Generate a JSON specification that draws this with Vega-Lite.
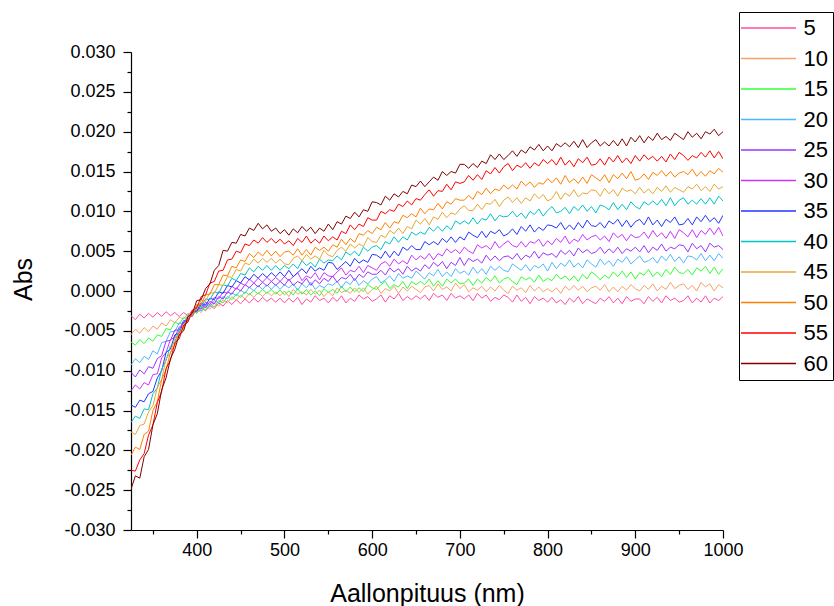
{
"$schema": "https://vega.github.io/schema/vega-lite/v6.json",
"width": 592, "height": 478,
"autosize": {"type": "none"},
"padding": {"left": 131, "top": 52, "right": 111, "bottom": 76},
"background": "white",
"config": {
 "view": {"stroke": null},
 "axis": {"labelFont": "Liberation Sans", "titleFont": "Liberation Sans", "labelColor": "#000", "titleColor": "#000", "domainColor": "#000", "tickColor": "#000", "grid": false, "titleFontWeight": "normal", "domainWidth": 1.2, "tickWidth": 1.2}
},
"data": {"values": [
{"x":325,"s5":-0.0031,"s10":-0.0055,"s15":-0.0064,"s20":-0.0093,"s25":-0.0102,"s30":-0.0125,"s35":-0.0143,"s40":-0.0165,"s45":-0.0177,"s50":-0.0206,"s55":-0.0225,"s60":-0.0249},
{"x":330,"s5":-0.0036,"s10":-0.0048,"s15":-0.0068,"s20":-0.0085,"s25":-0.0108,"s30":-0.0118,"s35":-0.0146,"s40":-0.0157,"s45":-0.0180,"s50":-0.0196,"s55":-0.0226,"s60":-0.0232},
{"x":335,"s5":-0.0029,"s10":-0.0053,"s15":-0.0061,"s20":-0.0090,"s25":-0.0099,"s30":-0.0123,"s35":-0.0137,"s40":-0.0160,"s45":-0.0169,"s50":-0.0199,"s55":-0.0212,"s60":-0.0235},
{"x":340,"s5":-0.0034,"s10":-0.0046,"s15":-0.0066,"s20":-0.0082,"s25":-0.0104,"s30":-0.0115,"s35":-0.0139,"s40":-0.0148,"s45":-0.0167,"s50":-0.0180,"s55":-0.0204,"s60":-0.0208},
{"x":345,"s5":-0.0028,"s10":-0.0051,"s15":-0.0059,"s20":-0.0086,"s25":-0.0095,"s30":-0.0118,"s35":-0.0129,"s40":-0.0149,"s45":-0.0152,"s50":-0.0176,"s55":-0.0181,"s60":-0.0199},
{"x":350,"s5":-0.0033,"s10":-0.0044,"s15":-0.0063,"s20":-0.0075,"s25":-0.0097,"s30":-0.0105,"s35":-0.0126,"s40":-0.0129,"s45":-0.0144,"s50":-0.0150,"s55":-0.0168,"s60":-0.0168},
{"x":355,"s5":-0.0027,"s10":-0.0048,"s15":-0.0055,"s20":-0.0079,"s25":-0.0085,"s30":-0.0104,"s35":-0.0109,"s40":-0.0122,"s45":-0.0121,"s50":-0.0139,"s55":-0.0140,"s60":-0.0154},
{"x":360,"s5":-0.0032,"s10":-0.0040,"s15":-0.0057,"s20":-0.0065,"s25":-0.0081,"s30":-0.0084,"s35":-0.0100,"s40":-0.0098,"s45":-0.0111,"s50":-0.0111,"s55":-0.0126,"s60":-0.0124},
{"x":365,"s5":-0.0026,"s10":-0.0044,"s15":-0.0047,"s20":-0.0063,"s25":-0.0063,"s30":-0.0077,"s35":-0.0077,"s40":-0.0087,"s45":-0.0085,"s50":-0.0099,"s55":-0.0097,"s60":-0.0109},
{"x":370,"s5":-0.0031,"s10":-0.0036,"s15":-0.0049,"s20":-0.0051,"s25":-0.0062,"s30":-0.0061,"s35":-0.0073,"s40":-0.0069,"s45":-0.0078,"s50":-0.0077,"s55":-0.0087,"s60":-0.0085},
{"x":375,"s5":-0.0027,"s10":-0.0040,"s15":-0.0039,"s20":-0.0051,"s25":-0.0049,"s30":-0.0058,"s35":-0.0055,"s40":-0.0064,"s45":-0.0059,"s50":-0.0068,"s55":-0.0065,"s60":-0.0073},
{"x":380,"s5":-0.0032,"s10":-0.0033,"s15":-0.0042,"s20":-0.0040,"s25":-0.0049,"s30":-0.0045,"s35":-0.0053,"s40":-0.0048,"s45":-0.0056,"s50":-0.0052,"s55":-0.0060,"s60":-0.0055},
{"x":385,"s5":-0.0027,"s10":-0.0035,"s15":-0.0033,"s20":-0.0041,"s25":-0.0037,"s30":-0.0044,"s35":-0.0039,"s40":-0.0046,"s45":-0.0041,"s50":-0.0048,"s55":-0.0043,"s60":-0.0050},
{"x":390,"s5":-0.0031,"s10":-0.0028,"s15":-0.0035,"s20":-0.0030,"s25":-0.0037,"s30":-0.0032,"s35":-0.0038,"s40":-0.0032,"s45":-0.0038,"s50":-0.0032,"s55":-0.0039,"s60":-0.0032},
{"x":395,"s5":-0.0024,"s10":-0.0031,"s15":-0.0025,"s20":-0.0031,"s25":-0.0025,"s30":-0.0032,"s35":-0.0026,"s40":-0.0031,"s45":-0.0025,"s50":-0.0031,"s55":-0.0024,"s60":-0.0028},
{"x":400,"s5":-0.0028,"s10":-0.0023,"s15":-0.0028,"s20":-0.0021,"s25":-0.0026,"s30":-0.0020,"s35":-0.0025,"s40":-0.0018,"s45":-0.0023,"s50":-0.0017,"s55":-0.0021,"s60":-0.0012},
{"x":405,"s5":-0.0021,"s10":-0.0027,"s15":-0.0020,"s20":-0.0025,"s25":-0.0017,"s30":-0.0023,"s35":-0.0015,"s40":-0.0020,"s45":-0.0012,"s50":-0.0017,"s55":-0.0007,"s60":-0.0011},
{"x":410,"s5":-0.0025,"s10":-0.0019,"s15":-0.0024,"s20":-0.0017,"s25":-0.0021,"s30":-0.0014,"s35":-0.0018,"s40":-0.0010,"s45":-0.0013,"s50":-0.0005,"s55":-0.0005,"s60":0.0003},
{"x":415,"s5":-0.0018,"s10":-0.0023,"s15":-0.0016,"s20":-0.0020,"s25":-0.0013,"s30":-0.0017,"s35":-0.0009,"s40":-0.0011,"s45":-0.0002,"s50":-0.0004,"s55":0.0010,"s60":0.0009},
{"x":420,"s5":-0.0022,"s10":-0.0015,"s15":-0.0020,"s20":-0.0012,"s25":-0.0016,"s30":-0.0008,"s35":-0.0011,"s40":-0.0001,"s45":-0.0003,"s50":0.0008,"s55":0.0012,"s60":0.0026},
{"x":425,"s5":-0.0015,"s10":-0.0019,"s15":-0.0012,"s20":-0.0015,"s25":-0.0007,"s30":-0.0010,"s35":-0.0001,"s40":-0.0003,"s45":0.0008,"s50":0.0008,"s55":0.0025,"s60":0.0032},
{"x":430,"s5":-0.0019,"s10":-0.0011,"s15":-0.0015,"s20":-0.0007,"s25":-0.0010,"s30":-0.0001,"s35":-0.0003,"s40":0.0008,"s45":0.0007,"s50":0.0020,"s55":0.0026,"s60":0.0051},
{"x":435,"s5":-0.0012,"s10":-0.0015,"s15":-0.0007,"s20":-0.0010,"s25":-0.0001,"s30":-0.0003,"s35":0.0007,"s40":0.0006,"s45":0.0018,"s50":0.0019,"s55":0.0039,"s60":0.0050},
{"x":440,"s5":-0.0017,"s10":-0.0007,"s15":-0.0011,"s20":-0.0002,"s25":-0.0004,"s30":0.0006,"s35":0.0005,"s40":0.0016,"s45":0.0017,"s50":0.0031,"s55":0.0040,"s60":0.0061},
{"x":445,"s5":-0.0011,"s10":-0.0012,"s15":-0.0004,"s20":-0.0006,"s25":0.0004,"s30":0.0002,"s35":0.0013,"s40":0.0013,"s45":0.0027,"s50":0.0029,"s55":0.0050,"s60":0.0060},
{"x":450,"s5":-0.0016,"s10":-0.0005,"s15":-0.0008,"s20":0.0001,"s25":0,"s30":0.0010,"s35":0.0010,"s40":0.0022,"s45":0.0025,"s50":0.0039,"s55":0.0048,"s60":0.0071},
{"x":455,"s5":-0.0010,"s10":-0.0010,"s15":-0.0001,"s20":-0.0003,"s25":0.0008,"s30":0.0007,"s35":0.0018,"s40":0.0020,"s45":0.0035,"s50":0.0037,"s55":0.0059,"s60":0.0069},
{"x":460,"s5":-0.0015,"s10":-0.0003,"s15":-0.0005,"s20":0.0005,"s25":0.0004,"s30":0.0015,"s35":0.0014,"s40":0.0029,"s45":0.0033,"s50":0.0047,"s55":0.0057,"s60":0.0079},
{"x":465,"s5":-0.0009,"s10":-0.0008,"s15":0.0001,"s20":0,"s25":0.0010,"s30":0.0010,"s35":0.0021,"s40":0.0024,"s45":0.0040,"s50":0.0042,"s55":0.0064,"s60":0.0076},
{"x":470,"s5":-0.0014,"s10":-0.0002,"s15":-0.0004,"s20":0.0007,"s25":0.0005,"s30":0.0016,"s35":0.0016,"s40":0.0031,"s45":0.0035,"s50":0.0049,"s55":0.0060,"s60":0.0085},
{"x":475,"s5":-0.0008,"s10":-0.0007,"s15":0.0002,"s20":0.0002,"s25":0.0011,"s30":0.0011,"s35":0.0022,"s40":0.0026,"s45":0.0041,"s50":0.0044,"s55":0.0067,"s60":0.0078},
{"x":480,"s5":-0.0013,"s10":-0.0001,"s15":-0.0003,"s20":0.0008,"s25":0.0006,"s30":0.0017,"s35":0.0017,"s40":0.0032,"s45":0.0036,"s50":0.0051,"s55":0.0061,"s60":0.0083},
{"x":485,"s5":-0.0009,"s10":-0.0006,"s15":0.0002,"s20":0.0002,"s25":0.0012,"s30":0.0012,"s35":0.0023,"s40":0.0026,"s45":0.0041,"s50":0.0044,"s55":0.0066,"s60":0.0075},
{"x":490,"s5":-0.0014,"s10":-0.0001,"s15":-0.0004,"s20":0.0008,"s25":0.0007,"s30":0.0017,"s35":0.0018,"s40":0.0032,"s45":0.0035,"s50":0.0050,"s55":0.0060,"s60":0.0079},
{"x":495,"s5":-0.0009,"s10":-0.0006,"s15":0.0001,"s20":0.0002,"s25":0.0012,"s30":0.0012,"s35":0.0024,"s40":0.0026,"s45":0.0040,"s50":0.0043,"s55":0.0065,"s60":0.0072},
{"x":500,"s5":-0.0015,"s10":0,"s15":-0.0005,"s20":0.0008,"s25":0.0007,"s30":0.0018,"s35":0.0018,"s40":0.0032,"s45":0.0034,"s50":0.0049,"s55":0.0059,"s60":0.0077},
{"x":505,"s5":-0.0009,"s10":-0.0007,"s15":0,"s20":0.0004,"s25":0.0015,"s30":0.0013,"s35":0.0026,"s40":0.0028,"s45":0.0033,"s50":0.0050,"s55":0.0063,"s60":0.0070},
{"x":510,"s5":-0.0014,"s10":0.0002,"s15":-0.0005,"s20":0.0009,"s25":0.0007,"s30":0.0018,"s35":0.0018,"s40":0.0034,"s45":0.0041,"s50":0.0045,"s55":0.0057,"s60":0.0078},
{"x":515,"s5":-0.0008,"s10":-0.0004,"s15":0.0003,"s20":0.0001,"s25":0.0012,"s30":0.0023,"s35":0.0023,"s40":0.0028,"s45":0.0044,"s50":0.0053,"s55":0.0066,"s60":0.0073},
{"x":520,"s5":-0.0017,"s10":-0.0001,"s15":-0.0004,"s20":0.0009,"s25":0.0009,"s30":0.0013,"s35":0.0028,"s40":0.0038,"s45":0.0038,"s50":0.0045,"s55":0.0061,"s60":0.0081},
{"x":525,"s5":-0.0010,"s10":-0.0005,"s15":0.0002,"s20":0.0004,"s25":0.0016,"s30":0.0019,"s35":0.0022,"s40":0.0032,"s45":0.0046,"s50":0.0052,"s55":0.0069,"s60":0.0075},
{"x":530,"s5":-0.0014,"s10":0.0002,"s15":-0.0005,"s20":0.0011,"s25":0.0007,"s30":0.0016,"s35":0.0031,"s40":0.0036,"s45":0.0040,"s50":0.0045,"s55":0.0060,"s60":0.0080},
{"x":535,"s5":-0.0006,"s10":-0.0004,"s15":0,"s20":0.0002,"s25":0.0014,"s30":0.0023,"s35":0.0025,"s40":0.0030,"s45":0.0044,"s50":0.0055,"s55":0.0065,"s60":0.0072},
{"x":540,"s5":-0.0012,"s10":0.0001,"s15":-0.0006,"s20":0.0007,"s25":0.0009,"s30":0.0014,"s35":0.0029,"s40":0.0040,"s45":0.0040,"s50":0.0051,"s55":0.0060,"s60":0.0079},
{"x":545,"s5":-0.0009,"s10":-0.0007,"s15":0.0003,"s20":0.0004,"s25":0.0016,"s30":0.0023,"s35":0.0026,"s40":0.0035,"s45":0.0051,"s50":0.0055,"s55":0.0069,"s60":0.0075},
{"x":550,"s5":-0.0015,"s10":-0.0001,"s15":-0.0002,"s20":0.0009,"s25":0.0012,"s30":0.0019,"s35":0.0036,"s40":0.0039,"s45":0.0045,"s50":0.0050,"s55":0.0063,"s60":0.0084},
{"x":555,"s5":-0.0008,"s10":-0.0006,"s15":0.0002,"s20":0.0007,"s25":0.0019,"s30":0.0018,"s35":0.0035,"s40":0.0038,"s45":0.0043,"s50":0.0058,"s55":0.0068,"s60":0.0077},
{"x":560,"s5":-0.0013,"s10":0.0004,"s15":-0.0003,"s20":0.0012,"s25":0.0011,"s30":0.0024,"s35":0.0027,"s40":0.0044,"s45":0.0051,"s50":0.0055,"s55":0.0064,"s60":0.0087},
{"x":565,"s5":-0.0006,"s10":-0.0002,"s15":0.0006,"s20":0.0004,"s25":0.0017,"s30":0.0029,"s35":0.0032,"s40":0.0039,"s45":0.0055,"s50":0.0065,"s55":0.0075,"s60":0.0084},
{"x":570,"s5":-0.0015,"s10":0.0001,"s15":-0.0001,"s20":0.0012,"s25":0.0015,"s30":0.0020,"s35":0.0037,"s40":0.0049,"s45":0.0050,"s50":0.0058,"s55":0.0072,"s60":0.0094},
{"x":575,"s5":-0.0009,"s10":-0.0003,"s15":0.0005,"s20":0.0008,"s25":0.0021,"s30":0.0026,"s35":0.0031,"s40":0.0045,"s45":0.0059,"s50":0.0066,"s55":0.0083,"s60":0.0091},
{"x":580,"s5":-0.0013,"s10":0.0004,"s15":-0.0001,"s20":0.0016,"s25":0.0013,"s30":0.0024,"s35":0.0041,"s40":0.0050,"s45":0.0054,"s50":0.0061,"s55":0.0077,"s60":0.0099},
{"x":585,"s5":-0.0005,"s10":-0.0002,"s15":0.0004,"s20":0.0007,"s25":0.0021,"s30":0.0031,"s35":0.0035,"s40":0.0044,"s45":0.0059,"s50":0.0072,"s55":0.0084,"s60":0.0093},
{"x":590,"s5":-0.0010,"s10":0.0004,"s15":-0.0001,"s20":0.0013,"s25":0.0017,"s30":0.0023,"s35":0.0039,"s40":0.0055,"s45":0.0056,"s50":0.0070,"s55":0.0081,"s60":0.0102},
{"x":595,"s5":-0.0007,"s10":-0.0004,"s15":0.0008,"s20":0.0009,"s25":0.0024,"s30":0.0032,"s35":0.0036,"s40":0.0050,"s45":0.0067,"s50":0.0076,"s55":0.0092,"s60":0.0100},
{"x":600,"s5":-0.0013,"s10":0.0002,"s15":0.0004,"s20":0.0015,"s25":0.0021,"s30":0.0029,"s35":0.0046,"s40":0.0055,"s45":0.0062,"s50":0.0072,"s55":0.0089,"s60":0.0112},
{"x":605,"s5":-0.0010,"s10":0.0006,"s15":0.0002,"s20":0.0018,"s25":0.0021,"s30":0.0026,"s35":0.0045,"s40":0.0057,"s45":0.0061,"s50":0.0080,"s55":0.0089,"s60":0.0111},
{"x":610,"s5":-0.0005,"s10":-0.0003,"s15":0.0008,"s20":0.0010,"s25":0.0026,"s30":0.0034,"s35":0.0041,"s40":0.0052,"s45":0.0070,"s50":0.0077,"s55":0.0100,"s60":0.0108},
{"x":615,"s5":-0.0014,"s10":0.0003,"s15":0.0012,"s20":0.0014,"s25":0.0020,"s30":0.0037,"s35":0.0050,"s40":0.0062,"s45":0.0067,"s50":0.0086,"s55":0.0097,"s60":0.0119},
{"x":620,"s5":-0.0006,"s10":0,"s15":0.0003,"s20":0.0019,"s25":0.0029,"s30":0.0031,"s35":0.0042,"s40":0.0059,"s45":0.0076,"s50":0.0079,"s55":0.0102,"s60":0.0114},
{"x":625,"s5":-0.0010,"s10":0.0006,"s15":0.0008,"s20":0.0012,"s25":0.0024,"s30":0.0040,"s35":0.0050,"s40":0.0068,"s45":0.0072,"s50":0.0087,"s55":0.0100,"s60":0.0122},
{"x":630,"s5":-0.0003,"s10":-0.0003,"s15":0.0005,"s20":0.0022,"s25":0.0028,"s30":0.0034,"s35":0.0044,"s40":0.0061,"s45":0.0079,"s50":0.0085,"s55":0.0109,"s60":0.0118},
{"x":635,"s5":-0.0012,"s10":0.0005,"s15":0.0012,"s20":0.0016,"s25":0.0021,"s30":0.0038,"s35":0.0055,"s40":0.0068,"s45":0.0072,"s50":0.0095,"s55":0.0106,"s60":0.0125},
{"x":640,"s5":-0.0007,"s10":0,"s15":0.0003,"s20":0.0019,"s25":0.0031,"s30":0.0034,"s35":0.0051,"s40":0.0064,"s45":0.0081,"s50":0.0092,"s55":0.0113,"s60":0.0122},
{"x":645,"s5":-0.0011,"s10":0.0006,"s15":0.0012,"s20":0.0016,"s25":0.0025,"s30":0.0045,"s35":0.0057,"s40":0.0074,"s45":0.0078,"s50":0.0097,"s55":0.0108,"s60":0.0133},
{"x":650,"s5":-0.0006,"s10":0.0002,"s15":0.0008,"s20":0.0025,"s25":0.0029,"s30":0.0039,"s35":0.0052,"s40":0.0070,"s45":0.0089,"s50":0.0093,"s55":0.0116,"s60":0.0131},
{"x":655,"s5":-0.0010,"s10":-0.0002,"s15":0.0012,"s20":0.0020,"s25":0.0025,"s30":0.0044,"s35":0.0052,"s40":0.0074,"s45":0.0084,"s50":0.0104,"s55":0.0114,"s60":0.0138},
{"x":660,"s5":-0.0005,"s10":0.0005,"s15":0.0008,"s20":0.0015,"s25":0.0033,"s30":0.0040,"s35":0.0062,"s40":0.0071,"s45":0.0091,"s50":0.0097,"s55":0.0121,"s60":0.0131},
{"x":665,"s5":-0.0012,"s10":0.0007,"s15":0.0015,"s20":0.0023,"s25":0.0028,"s30":0.0047,"s35":0.0058,"s40":0.0080,"s45":0.0083,"s50":0.0103,"s55":0.0127,"s60":0.0137},
{"x":670,"s5":-0.0003,"s10":0,"s15":0.0006,"s20":0.0019,"s25":0.0036,"s30":0.0039,"s35":0.0062,"s40":0.0075,"s45":0.0093,"s50":0.0102,"s55":0.0119,"s60":0.0143},
{"x":675,"s5":-0.0008,"s10":0.0009,"s15":0.0013,"s20":0.0027,"s25":0.0031,"s30":0.0047,"s35":0.0058,"s40":0.0081,"s45":0.0090,"s50":0.0110,"s55":0.0126,"s60":0.0139},
{"x":680,"s5":-0.0005,"s10":0.0002,"s15":0.0006,"s20":0.0018,"s25":0.0037,"s30":0.0044,"s35":0.0066,"s40":0.0075,"s45":0.0099,"s50":0.0103,"s55":0.0125,"s60":0.0150},
{"x":685,"s5":-0.0012,"s10":0.0005,"s15":0.0015,"s20":0.0024,"s25":0.0028,"s30":0.0053,"s35":0.0061,"s40":0.0082,"s45":0.0092,"s50":0.0112,"s55":0.0134,"s60":0.0145},
{"x":690,"s5":-0.0003,"s10":0,"s15":0.0010,"s20":0.0018,"s25":0.0036,"s30":0.0048,"s35":0.0068,"s40":0.0077,"s45":0.0098,"s50":0.0109,"s55":0.0127,"s60":0.0150},
{"x":695,"s5":-0.0009,"s10":0.0010,"s15":0.0015,"s20":0.0028,"s25":0.0032,"s30":0.0052,"s35":0.0061,"s40":0.0088,"s45":0.0096,"s50":0.0116,"s55":0.0137,"s60":0.0148},
{"x":700,"s5":-0.0006,"s10":0.0003,"s15":0.0009,"s20":0.0022,"s25":0.0042,"s30":0.0047,"s35":0.0068,"s40":0.0084,"s45":0.0103,"s50":0.0114,"s55":0.0135,"s60":0.0159},
{"x":705,"s5":-0.0010,"s10":0.0008,"s15":0.0010,"s20":0.0025,"s25":0.0032,"s30":0.0055,"s35":0.0064,"s40":0.0088,"s45":0.0107,"s50":0.0114,"s55":0.0137,"s60":0.0159},
{"x":710,"s5":-0.0005,"s10":-0.0001,"s15":0.0015,"s20":0.0020,"s25":0.0041,"s30":0.0050,"s35":0.0074,"s40":0.0084,"s45":0.0101,"s50":0.0120,"s55":0.0145,"s60":0.0154},
{"x":715,"s5":-0.0012,"s10":0.0004,"s15":0.0007,"s20":0.0030,"s25":0.0037,"s30":0.0047,"s35":0.0070,"s40":0.0092,"s45":0.0101,"s50":0.0115,"s55":0.0139,"s60":0.0160},
{"x":720,"s5":-0.0003,"s10":0.0001,"s15":0.0015,"s20":0.0022,"s25":0.0040,"s30":0.0058,"s35":0.0067,"s40":0.0084,"s45":0.0109,"s50":0.0125,"s55":0.0146,"s60":0.0155},
{"x":725,"s5":-0.0009,"s10":0.0006,"s15":0.0010,"s20":0.0028,"s25":0.0035,"s30":0.0054,"s35":0.0075,"s40":0.0091,"s45":0.0102,"s50":0.0121,"s55":0.0140,"s60":0.0163},
{"x":730,"s5":-0.0005,"s10":-0.0001,"s15":0.0017,"s20":0.0021,"s25":0.0045,"s30":0.0057,"s35":0.0067,"s40":0.0089,"s45":0.0110,"s50":0.0129,"s55":0.0151,"s60":0.0160},
{"x":735,"s5":-0.0013,"s10":0.0005,"s15":0.0012,"s20":0.0031,"s25":0.0038,"s30":0.0052,"s35":0.0075,"s40":0.0097,"s45":0.0109,"s50":0.0122,"s55":0.0147,"s60":0.0171},
{"x":740,"s5":-0.0008,"s10":0,"s15":0.0019,"s20":0.0026,"s25":0.0044,"s30":0.0062,"s35":0.0072,"s40":0.0088,"s45":0.0115,"s50":0.0128,"s55":0.0155,"s60":0.0165},
{"x":745,"s5":-0.0011,"s10":0.0007,"s15":0.0010,"s20":0.0031,"s25":0.0038,"s30":0.0054,"s35":0.0077,"s40":0.0095,"s45":0.0106,"s50":0.0126,"s55":0.0148,"s60":0.0172},
{"x":750,"s5":-0.0005,"s10":0.0001,"s15":0.0015,"s20":0.0026,"s25":0.0043,"s30":0.0059,"s35":0.0069,"s40":0.0093,"s45":0.0114,"s50":0.0133,"s55":0.0156,"s60":0.0165},
{"x":755,"s5":-0.0008,"s10":-0.0003,"s15":0.0017,"s20":0.0024,"s25":0.0044,"s30":0.0063,"s35":0.0072,"s40":0.0094,"s45":0.0118,"s50":0.0128,"s55":0.0160,"s60":0.0170},
{"x":760,"s5":-0.0014,"s10":0.0006,"s15":0.0012,"s20":0.0034,"s25":0.0040,"s30":0.0057,"s35":0.0078,"s40":0.0100,"s45":0.0111,"s50":0.0133,"s55":0.0151,"s60":0.0176},
{"x":765,"s5":-0.0005,"s10":0.0001,"s15":0.0008,"s20":0.0030,"s25":0.0047,"s30":0.0055,"s35":0.0071,"s40":0.0093,"s45":0.0117,"s50":0.0128,"s55":0.0158,"s60":0.0169},
{"x":770,"s5":-0.0013,"s10":0.0004,"s15":0.0018,"s20":0.0026,"s25":0.0039,"s30":0.0062,"s35":0.0081,"s40":0.0098,"s45":0.0110,"s50":0.0138,"s55":0.0155,"s60":0.0177},
{"x":775,"s5":-0.0008,"s10":-0.0002,"s15":0.0014,"s20":0.0033,"s25":0.0045,"s30":0.0055,"s35":0.0075,"s40":0.0091,"s45":0.0117,"s50":0.0132,"s55":0.0161,"s60":0.0173},
{"x":780,"s5":-0.0016,"s10":0.0007,"s15":0.0017,"s20":0.0025,"s25":0.0042,"s30":0.0062,"s35":0.0083,"s40":0.0100,"s45":0.0113,"s50":0.0137,"s55":0.0154,"s60":0.0181},
{"x":785,"s5":-0.0007,"s10":0,"s15":0.0011,"s20":0.0032,"s25":0.0050,"s30":0.0060,"s35":0.0074,"s40":0.0096,"s45":0.0122,"s50":0.0130,"s55":0.0161,"s60":0.0177},
{"x":790,"s5":-0.0012,"s10":0.0005,"s15":0.0020,"s20":0.0029,"s25":0.0041,"s30":0.0065,"s35":0.0080,"s40":0.0103,"s45":0.0116,"s50":0.0136,"s55":0.0157,"s60":0.0184},
{"x":795,"s5":-0.0009,"s10":-0.0001,"s15":0.0012,"s20":0.0034,"s25":0.0048,"s30":0.0056,"s35":0.0076,"s40":0.0094,"s45":0.0121,"s50":0.0134,"s55":0.0165,"s60":0.0176},
{"x":800,"s5":-0.0014,"s10":0.0003,"s15":0.0016,"s20":0.0025,"s25":0.0045,"s30":0.0063,"s35":0.0083,"s40":0.0101,"s45":0.0113,"s50":0.0141,"s55":0.0160,"s60":0.0182},
{"x":805,"s5":-0.0008,"s10":-0.0001,"s15":0.0013,"s20":0.0036,"s25":0.0047,"s30":0.0058,"s35":0.0082,"s40":0.0106,"s45":0.0116,"s50":0.0136,"s55":0.0165,"s60":0.0176},
{"x":810,"s5":-0.0015,"s10":0.0004,"s15":0.0021,"s20":0.0028,"s25":0.0042,"s30":0.0066,"s35":0.0079,"s40":0.0098,"s45":0.0125,"s50":0.0142,"s55":0.0158,"s60":0.0185},
{"x":815,"s5":-0.0011,"s10":-0.0003,"s15":0.0015,"s20":0.0035,"s25":0.0051,"s30":0.0061,"s35":0.0086,"s40":0.0100,"s45":0.0115,"s50":0.0134,"s55":0.0168,"s60":0.0181},
{"x":820,"s5":-0.0017,"s10":0.0006,"s15":0.0019,"s20":0.0031,"s25":0.0046,"s30":0.0069,"s35":0.0077,"s40":0.0105,"s45":0.0123,"s50":0.0145,"s55":0.0158,"s60":0.0186},
{"x":825,"s5":-0.0009,"s10":0.0001,"s15":0.0013,"s20":0.0039,"s25":0.0051,"s30":0.0059,"s35":0.0083,"s40":0.0097,"s45":0.0119,"s50":0.0136,"s55":0.0164,"s60":0.0181},
{"x":830,"s5":-0.0014,"s10":0.0007,"s15":0.0019,"s20":0.0030,"s25":0.0044,"s30":0.0065,"s35":0.0077,"s40":0.0106,"s45":0.0127,"s50":0.0141,"s55":0.0156,"s60":0.0188},
{"x":835,"s5":-0.0007,"s10":0.0001,"s15":0.0012,"s20":0.0035,"s25":0.0054,"s30":0.0062,"s35":0.0086,"s40":0.0101,"s45":0.0118,"s50":0.0135,"s55":0.0166,"s60":0.0180},
{"x":840,"s5":-0.0016,"s10":0.0006,"s15":0.0021,"s20":0.0029,"s25":0.0048,"s30":0.0071,"s35":0.0079,"s40":0.0108,"s45":0.0123,"s50":0.0143,"s55":0.0161,"s60":0.0190},
{"x":845,"s5":-0.0010,"s10":-0.0001,"s15":0.0015,"s20":0.0039,"s25":0.0052,"s30":0.0064,"s35":0.0089,"s40":0.0100,"s45":0.0122,"s50":0.0135,"s55":0.0168,"s60":0.0180},
{"x":850,"s5":-0.0013,"s10":0.0004,"s15":0.0024,"s20":0.0034,"s25":0.0047,"s30":0.0068,"s35":0.0082,"s40":0.0106,"s45":0.0127,"s50":0.0146,"s55":0.0158,"s60":0.0186},
{"x":855,"s5":-0.0016,"s10":0.0006,"s15":0.0020,"s20":0.0030,"s25":0.0049,"s30":0.0070,"s35":0.0081,"s40":0.0098,"s45":0.0126,"s50":0.0142,"s55":0.0159,"s60":0.0190},
{"x":860,"s5":-0.0009,"s10":0.0001,"s15":0.0014,"s20":0.0040,"s25":0.0055,"s30":0.0064,"s35":0.0086,"s40":0.0108,"s45":0.0119,"s50":0.0138,"s55":0.0166,"s60":0.0182},
{"x":865,"s5":-0.0013,"s10":0.0008,"s15":0.0020,"s20":0.0033,"s25":0.0047,"s30":0.0069,"s35":0.0079,"s40":0.0106,"s45":0.0129,"s50":0.0146,"s55":0.0158,"s60":0.0187},
{"x":870,"s5":-0.0007,"s10":-0.0001,"s15":0.0016,"s20":0.0038,"s25":0.0053,"s30":0.0062,"s35":0.0088,"s40":0.0102,"s45":0.0122,"s50":0.0136,"s55":0.0168,"s60":0.0182},
{"x":875,"s5":-0.0015,"s10":0.0005,"s15":0.0024,"s20":0.0031,"s25":0.0048,"s30":0.0073,"s35":0.0084,"s40":0.0111,"s45":0.0127,"s50":0.0146,"s55":0.0162,"s60":0.0189},
{"x":880,"s5":-0.0009,"s10":-0.0001,"s15":0.0018,"s20":0.0040,"s25":0.0055,"s30":0.0067,"s35":0.0090,"s40":0.0102,"s45":0.0119,"s50":0.0141,"s55":0.0170,"s60":0.0182},
{"x":885,"s5":-0.0016,"s10":0.0006,"s15":0.0025,"s20":0.0036,"s25":0.0047,"s30":0.0071,"s35":0.0081,"s40":0.0109,"s45":0.0129,"s50":0.0148,"s55":0.0161,"s60":0.0191},
{"x":890,"s5":-0.0007,"s10":0.0001,"s15":0.0017,"s20":0.0043,"s25":0.0053,"s30":0.0063,"s35":0.0089,"s40":0.0102,"s45":0.0125,"s50":0.0141,"s55":0.0167,"s60":0.0182},
{"x":895,"s5":-0.0013,"s10":0.0008,"s15":0.0024,"s20":0.0034,"s25":0.0050,"s30":0.0071,"s35":0.0080,"s40":0.0112,"s45":0.0127,"s50":0.0150,"s55":0.0160,"s60":0.0193},
{"x":900,"s5":-0.0010,"s10":0.0003,"s15":0.0015,"s20":0.0039,"s25":0.0055,"s30":0.0067,"s35":0.0087,"s40":0.0106,"s45":0.0122,"s50":0.0139,"s55":0.0170,"s60":0.0187},
{"x":905,"s5":-0.0010,"s10":0,"s15":0.0023,"s20":0.0044,"s25":0.0049,"s30":0.0068,"s35":0.0090,"s40":0.0103,"s45":0.0130,"s50":0.0141,"s55":0.0163,"s60":0.0195},
{"x":910,"s5":-0.0016,"s10":0.0007,"s15":0.0020,"s20":0.0036,"s25":0.0057,"s30":0.0074,"s35":0.0083,"s40":0.0112,"s45":0.0123,"s50":0.0147,"s55":0.0171,"s60":0.0186},
{"x":915,"s5":-0.0007,"s10":0.0002,"s15":0.0027,"s20":0.0038,"s25":0.0048,"s30":0.0066,"s35":0.0093,"s40":0.0108,"s45":0.0128,"s50":0.0140,"s55":0.0165,"s60":0.0194},
{"x":920,"s5":-0.0013,"s10":0.0009,"s15":0.0018,"s20":0.0042,"s25":0.0055,"s30":0.0076,"s35":0.0083,"s40":0.0113,"s45":0.0122,"s50":0.0149,"s55":0.0169,"s60":0.0189},
{"x":925,"s5":-0.0008,"s10":0,"s15":0.0024,"s20":0.0035,"s25":0.0051,"s30":0.0068,"s35":0.0089,"s40":0.0108,"s45":0.0130,"s50":0.0145,"s55":0.0163,"s60":0.0198},
{"x":930,"s5":-0.0015,"s10":0.0006,"s15":0.0018,"s20":0.0044,"s25":0.0059,"s30":0.0073,"s35":0.0081,"s40":0.0115,"s45":0.0125,"s50":0.0151,"s55":0.0169,"s60":0.0190},
{"x":935,"s5":-0.0006,"s10":0.0002,"s15":0.0027,"s20":0.0038,"s25":0.0050,"s30":0.0066,"s35":0.0090,"s40":0.0107,"s45":0.0132,"s50":0.0144,"s55":0.0162,"s60":0.0194},
{"x":940,"s5":-0.0012,"s10":0.0011,"s15":0.0021,"s20":0.0046,"s25":0.0055,"s30":0.0075,"s35":0.0086,"s40":0.0117,"s45":0.0124,"s50":0.0150,"s55":0.0172,"s60":0.0189},
{"x":945,"s5":-0.0009,"s10":0.0003,"s15":0.0030,"s20":0.0037,"s25":0.0053,"s30":0.0066,"s35":0.0093,"s40":0.0107,"s45":0.0130,"s50":0.0143,"s55":0.0165,"s60":0.0198},
{"x":950,"s5":-0.0014,"s10":0.0007,"s15":0.0023,"s20":0.0043,"s25":0.0058,"s30":0.0077,"s35":0.0083,"s40":0.0114,"s45":0.0127,"s50":0.0148,"s55":0.0174,"s60":0.0194},
{"x":955,"s5":-0.0012,"s10":0.0009,"s15":0.0022,"s20":0.0035,"s25":0.0057,"s30":0.0073,"s35":0.0084,"s40":0.0117,"s45":0.0124,"s50":0.0150,"s55":0.0170,"s60":0.0190},
{"x":960,"s5":-0.0006,"s10":0.0002,"s15":0.0027,"s20":0.0044,"s25":0.0049,"s30":0.0068,"s35":0.0091,"s40":0.0109,"s45":0.0131,"s50":0.0146,"s55":0.0164,"s60":0.0200},
{"x":965,"s5":-0.0015,"s10":0.0007,"s15":0.0020,"s20":0.0043,"s25":0.0060,"s30":0.0077,"s35":0.0083,"s40":0.0114,"s45":0.0128,"s50":0.0153,"s55":0.0170,"s60":0.0193},
{"x":970,"s5":-0.0009,"s10":0,"s15":0.0029,"s20":0.0039,"s25":0.0053,"s30":0.0067,"s35":0.0093,"s40":0.0109,"s45":0.0134,"s50":0.0144,"s55":0.0167,"s60":0.0198},
{"x":975,"s5":-0.0014,"s10":0.0011,"s15":0.0025,"s20":0.0047,"s25":0.0057,"s30":0.0076,"s35":0.0087,"s40":0.0116,"s45":0.0126,"s50":0.0150,"s55":0.0174,"s60":0.0191},
{"x":980,"s5":-0.0006,"s10":0.0005,"s15":0.0031,"s20":0.0038,"s25":0.0049,"s30":0.0071,"s35":0.0095,"s40":0.0109,"s45":0.0131,"s50":0.0144,"s55":0.0168,"s60":0.0200},
{"x":985,"s5":-0.0015,"s10":0.0009,"s15":0.0022,"s20":0.0045,"s25":0.0060,"s30":0.0079,"s35":0.0087,"s40":0.0117,"s45":0.0125,"s50":0.0151,"s55":0.0176,"s60":0.0197},
{"x":990,"s5":-0.0009,"s10":0,"s15":0.0030,"s20":0.0038,"s25":0.0055,"s30":0.0071,"s35":0.0092,"s40":0.0109,"s45":0.0134,"s50":0.0147,"s55":0.0167,"s60":0.0203},
{"x":995,"s5":-0.0012,"s10":0.0008,"s15":0.0021,"s20":0.0047,"s25":0.0057,"s30":0.0080,"s35":0.0085,"s40":0.0119,"s45":0.0128,"s50":0.0154,"s55":0.0175,"s60":0.0195},
{"x":1000,"s5":-0.0007,"s10":0.0004,"s15":0.0028,"s20":0.0041,"s25":0.0052,"s30":0.0069,"s35":0.0095,"s40":0.0113,"s45":0.0131,"s50":0.0149,"s55":0.0166,"s60":0.0200}
]},
"transform": [{"fold": ["s5","s10","s15","s20","s25","s30","s35","s40","s45","s50","s55","s60"], "as": ["series","abs"]}],
"layer": [
 {
  "mark": {"type": "line", "strokeWidth": 1, "clip": true},
  "encoding": {
   "x": {"field": "x", "type": "quantitative", "scale": {"domain": [325, 1000], "nice": false, "zero": false},
     "axis": {"orient": "bottom", "values": [400,500,600,700,800,900,1000], "format": "d", "tickSize": 8, "labelFontSize": 18, "labelPadding": 3, "labelFlush": false, "labelOverlap": false, "labelBound": false, "title": "Aallonpituus (nm)", "titleFontSize": 25, "titlePadding": 22}},
   "y": {"field": "abs", "type": "quantitative", "scale": {"domain": [-0.03, 0.03], "nice": false, "zero": false},
     "axis": {"orient": "left", "values": [-0.03,-0.025,-0.02,-0.015,-0.01,-0.005,0,0.005,0.01,0.015,0.02,0.025,0.03], "labelExpr": "replace(format(datum.value,'.3f'),'\u2212','-')", "tickSize": 8, "labelFontSize": 18, "labelPadding": 8, "labelFlush": false, "labelOverlap": false, "labelBound": false, "title": "Abs", "titleFontSize": 25, "titleX": -108, "titleY": 227, "titleAngle": 270, "titleAlign": "center", "titleBaseline": "middle"}},
   "color": {"field": "series", "type": "nominal",
     "scale": {"domain": ["s5","s10","s15","s20","s25","s30","s35","s40","s45","s50","s55","s60"],
               "range": ["#FF4DA6","#F5A26A","#33FF33","#4DB8FF","#9933FF","#CC33FF","#2233FF","#00C4C4","#E6A832","#FF8000","#FF0000","#800000"]},
     "legend": {"title": null, "orient": "none", "legendX": 608, "legendY": -40, "symbolType": "M-2.75,0L2.75,0", "symbolSize": 400, "symbolStrokeWidth": 1.3, "symbolFillColor": "transparent", "symbolOffset": 13.5, "labelFontSize": 22, "labelFont": "Liberation Sans", "labelColor": "#000", "labelOffset": 24, "labelExpr": "replace(datum.label,'s','')", "strokeColor": "#000", "fillColor": "white", "padding": 5, "rowPadding": 8.5}}
  }
 },
 {
  "mark": {"type": "point", "opacity": 0},
  "encoding": {
   "x": {"field": "x", "type": "quantitative", "scale": {"domain": [325, 1000], "nice": false, "zero": false},
     "axis": {"orient": "bottom", "values": [350,450,550,650,750,850,950], "tickSize": 4, "labels": false, "domain": false, "title": null}},
   "y": {"field": "abs", "type": "quantitative", "scale": {"domain": [-0.03, 0.03], "nice": false, "zero": false},
     "axis": {"orient": "left", "values": [-0.0275,-0.0225,-0.0175,-0.0125,-0.0075,-0.0025,0.0025,0.0075,0.0125,0.0175,0.0225,0.0275], "tickSize": 4, "labels": false, "domain": false, "title": null}}
  }
 }
],
"resolve": {"axis": {"x": "independent", "y": "independent"}}
}
